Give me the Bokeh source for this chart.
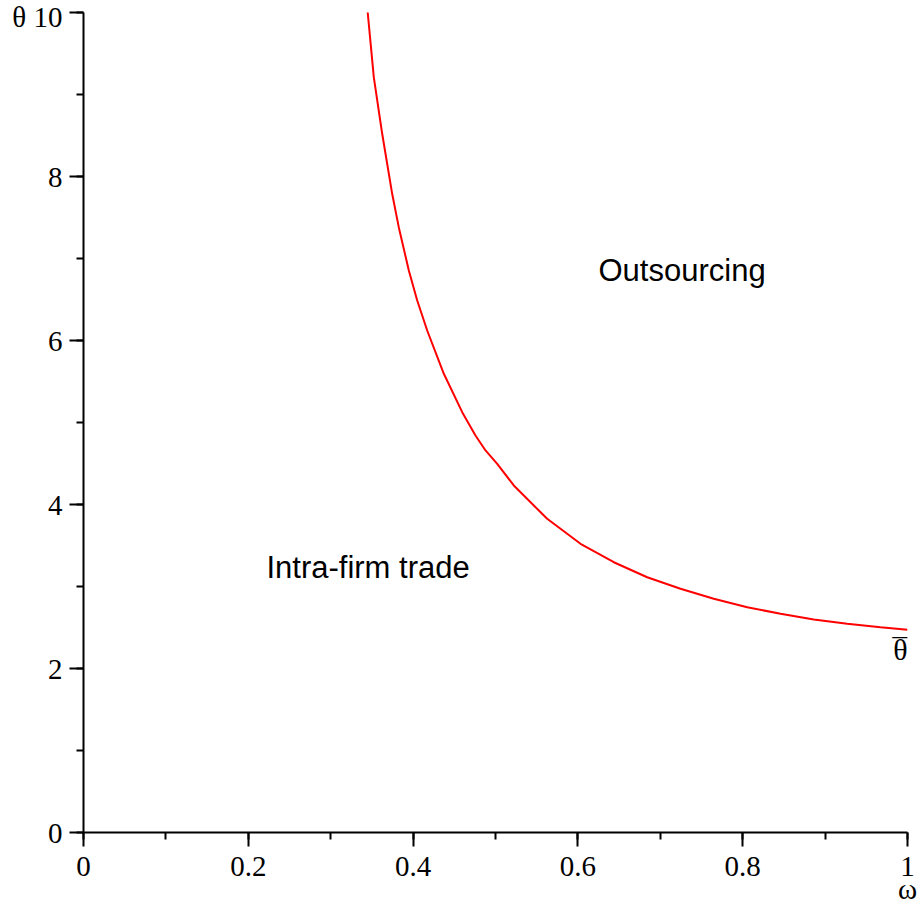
from bokeh.plotting import figure
from bokeh.models import Range1d, SingleIntervalTicker, Label
from bokeh.embed import file_html
from bokeh.resources import INLINE

# Boundary curve theta(omega)
omega = [0.3443, 0.3523, 0.3625, 0.3746, 0.3826, 0.3948, 0.4050, 0.4171, 0.4373,
         0.4596, 0.4757, 0.4879, 0.5021, 0.5222, 0.5627, 0.6032, 0.6436, 0.6841,
         0.7245, 0.7649, 0.8055, 0.8459, 0.8863, 0.9268, 0.9672, 1.0]
theta = [10.065, 9.211, 8.521, 7.789, 7.382, 6.854, 6.488, 6.122, 5.594,
         5.126, 4.841, 4.659, 4.496, 4.232, 3.826, 3.521, 3.296, 3.113,
         2.972, 2.850, 2.748, 2.667, 2.598, 2.545, 2.504, 2.472]

region_labels = ["Outsourcing", "Intra-firm trade"]
region_x = [0.625, 0.222]
region_y = [6.85, 3.23]

x_tick_labels = {0: "0", 0.2: "0.2", 0.4: "0.4", 0.6: "0.6", 0.8: "0.8", 1: "1\n\u03c9"}
y_tick_labels = {0: "0", 2: "2", 4: "4", 6: "6", 8: "8", 10: "\u03b8 10"}

p = figure(width=920, height=908, output_backend="svg", toolbar_location=None,
           x_range=Range1d(0, 1), y_range=Range1d(0, 10),
           min_border_left=83, min_border_right=13, min_border_top=12,
           min_border_bottom=76)
p.outline_line_color = None
p.xgrid.visible = False
p.ygrid.visible = False
p.background_fill_color = "white"
p.border_fill_color = "white"

p.xaxis.ticker = SingleIntervalTicker(interval=0.2, num_minor_ticks=2)
p.yaxis.ticker = SingleIntervalTicker(interval=2, num_minor_ticks=2)
p.xaxis.major_label_overrides = x_tick_labels
p.yaxis.major_label_overrides = y_tick_labels
for ax in (p.xaxis, p.yaxis):
    ax.axis_line_width = 2
    ax.axis_line_color = "black"
    ax.major_tick_line_width = 2
    ax.minor_tick_line_width = 2
    ax.major_tick_line_color = "black"
    ax.minor_tick_line_color = "black"
    ax.major_tick_out = 14
    ax.major_tick_in = 0
    ax.minor_tick_out = 7
    ax.minor_tick_in = 0
    ax.major_label_text_font = "Liberation Serif"
    ax.major_label_text_font_size = "29px"
    ax.major_label_text_color = "black"
    ax.major_label_text_line_height = 0.72
p.xaxis.major_label_standoff = 3
p.yaxis.major_label_standoff = 7

p.line(omega, theta, line_color="#ff0000", line_width=2)

for t, x, y in zip(region_labels, region_x, region_y):
    p.add_layout(Label(x=x, y=y, text=t, text_font="Liberation Sans",
                       text_font_size="31px", text_color="black",
                       text_align="left", text_baseline="middle"))

# theta-bar marker at the right end of the curve
p.add_layout(Label(x=1.0, y=2.23, text="\u03b8", text_font="Liberation Serif",
                   text_font_size="30px", text_color="black",
                   text_align="right", text_baseline="middle"))
p.add_layout(Label(x=1.0, y=2.25, text="\u00af", text_font="Liberation Serif",
                   text_font_size="30px", text_color="black",
                   text_align="right", text_baseline="middle"))

open("out.html", "w").write(file_html(p, INLINE))
